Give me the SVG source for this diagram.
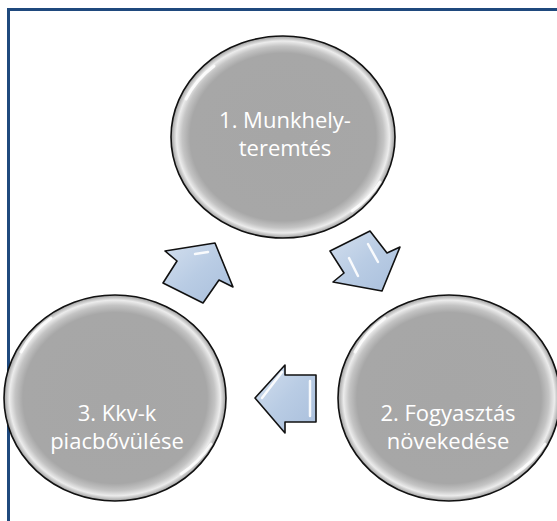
<svg xmlns="http://www.w3.org/2000/svg" width="557" height="521" viewBox="0 0 557 521">
<defs>
<radialGradient id="gloss" cx="50%" cy="50%" r="50%">
<stop offset="0" stop-color="#a6a6a6"/>
<stop offset="0.83" stop-color="#a7a7a7"/>
<stop offset="0.9" stop-color="#c4c4c4"/>
<stop offset="0.95" stop-color="#ececec"/>
<stop offset="1" stop-color="#9c9c9c"/>
</radialGradient>
<linearGradient id="ablue" x1="0" y1="0" x2="1" y2="1">
<stop offset="0" stop-color="#d3dfee"/>
<stop offset="0.5" stop-color="#b9cce4"/>
<stop offset="1" stop-color="#a9bfdc"/>
</linearGradient>
</defs>
<style>
.node ellipse { fill: url(#gloss); stroke: #111; stroke-width: 1.6; }
.hl { fill: none; stroke: #ffffff; stroke-width: 3; stroke-linecap: round; opacity: 0.85; }
.lbl { font-family: "Open Sans", "Liberation Sans", sans-serif; font-size: 22px; fill: #ffffff; text-anchor: middle; }
.arrow { fill: url(#ablue); stroke: #111; stroke-width: 1.6; stroke-linejoin: round; }
.ahl { fill: none; stroke: #ffffff; stroke-width: 2.5; stroke-linecap: round; opacity: 0.9; }
</style>
<rect width="557" height="521" fill="#ffffff"/>
<path d="M8.5,521 V9.5 H557" fill="none" stroke="#1f497d" stroke-width="3"/>

<g id="node1" class="node">
<ellipse cx="283" cy="137" rx="112" ry="101"/>
<path class="hl" d="M186,99 A104,93 0 0 1 214,66"/>
<path class="hl" d="M380,182 A104,93 0 0 1 352,211"/>
<text class="lbl" x="285" y="128">1. Munkhely-</text>
<text class="lbl" x="285" y="156">teremtés</text>
</g>

<g id="node2" class="node">
<ellipse cx="449" cy="398" rx="111" ry="103"/>
<path class="hl" d="M355,352 A103,95 0 0 1 385,318"/>
<path class="hl" d="M545,444 A103,95 0 0 1 515,474"/>
<text class="lbl" x="448" y="421">2. Fogyasztás</text>
<text class="lbl" x="448" y="449">növekedése</text>
</g>

<g id="node3" class="node">
<ellipse cx="115" cy="398" rx="111" ry="103"/>
<path class="hl" d="M21,352 A103,95 0 0 1 51,318"/>
<path class="hl" d="M211,444 A103,95 0 0 1 181,474"/>
<text class="lbl" x="117" y="421">3. Kkv-k</text>
<text class="lbl" x="117" y="449">piacbővülése</text>
</g>

<g id="connectors">
<g id="arrow1to2">
<polygon class="arrow" points="330,251 370,231 387,253 400,247 382,291 333,282 344,273"/>
<path class="ahl" d="M349,258 L358,276"/>
<path class="ahl" d="M368,244 L378,262"/>
</g>
<g id="arrow2to3">
<polygon class="arrow" points="255,398 285,365 285,375 316,375 316,422 285,422 285,433"/>
<path class="ahl" d="M310,381 L310,416"/>
<path class="ahl" d="M262,398 L282,372"/>
</g>
<g id="arrow3to1">
<polygon class="arrow" points="215,243 165,251 177,261 163,283 203,303 219,280 233,287"/>
<path class="ahl" d="M195,254 L208,252"/>
</g>
</g>
</svg>
